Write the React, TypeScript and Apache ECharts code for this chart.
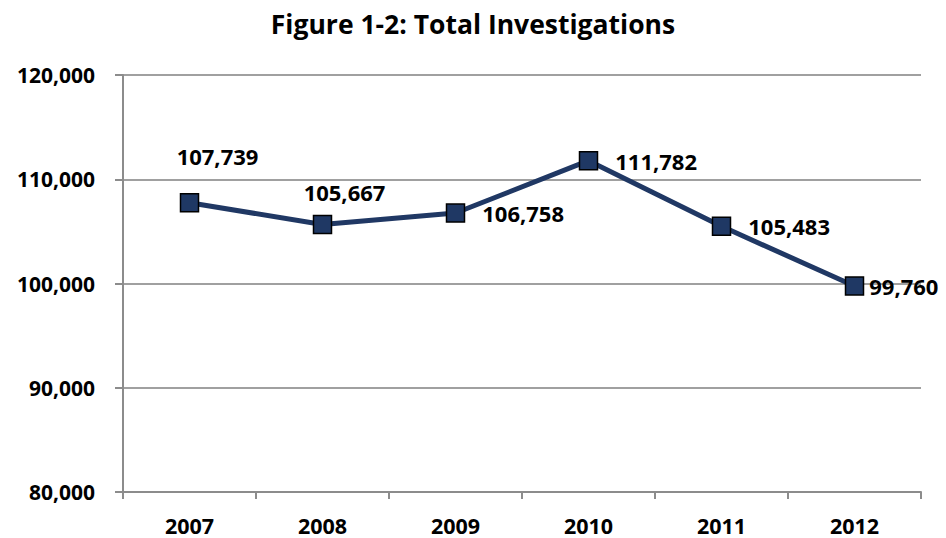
import React, { useEffect, useRef } from "react";
import * as echarts from "echarts";

const categories = ["2007", "2008", "2009", "2010", "2011", "2012"];
const investigations = [107739, 105667, 106758, 111782, 105483, 99760];
const yTicks = { min: 80000, max: 120000, interval: 10000 };

const FONT = "'Open Sans', sans-serif";

export default function App() {
  const ref = useRef<HTMLDivElement>(null);
  useEffect(() => {
    const chart = echarts.init(ref.current!, undefined, { renderer: "svg" });
    const labelCfg = [
      { position: "inside", offset: [28, -47] },
      { position: "inside", offset: [22, -32] },
      { position: "right", distance: 17 },
      { position: "right", distance: 17 },
      { position: "right", distance: 17 },
      { position: "right", distance: 5 },
    ];
    chart.setOption({
      animation: false,
      backgroundColor: "#ffffff",
      title: {
        text: "Figure 1-2: Total Investigations",
        left: "center",
        top: 5,
        textStyle: { fontFamily: FONT, fontWeight: "bold", fontSize: 26.5, color: "#000" },
      },
      grid: { left: 123, right: 25, top: 75, bottom: 46 },
      xAxis: {
        type: "category",
        data: categories,
        boundaryGap: true,
        axisLine: { lineStyle: { color: "#8c8c8c", width: 2 } },
        axisTick: { show: true, length: 7, lineStyle: { color: "#8c8c8c", width: 2 } },
        axisLabel: { fontFamily: FONT, fontWeight: "bold", fontSize: 21.5, color: "#000", margin: 22 },
      },
      yAxis: {
        type: "value",
        min: yTicks.min,
        max: yTicks.max,
        interval: yTicks.interval,
        axisLine: { show: true, lineStyle: { color: "#8c8c8c", width: 2 } },
        axisTick: { show: true, length: 8, lineStyle: { color: "#8c8c8c", width: 2 } },
        splitLine: { show: true, lineStyle: { color: "#a0a0a0", width: 2 } },
        axisLabel: {
          fontFamily: FONT,
          fontWeight: "bold",
          fontSize: 21,
          color: "#000",
          margin: 28,
          formatter: (v: number) => v.toLocaleString("en-US"),
        },
      },
      series: [
        {
          type: "line",
          data: investigations.map((v, i) => ({
            value: v,
            label: { show: true, ...labelCfg[i] },
          })),
          symbol: "rect",
          symbolSize: 18,
          lineStyle: { color: "#203864", width: 5 },
          itemStyle: { color: "#1f3864", borderColor: "#000", borderWidth: 1.5 },
          label: {
            show: true,
            fontFamily: FONT,
            fontWeight: "bold",
            fontSize: 22,
            color: "#000",
            formatter: (p: any) => Number(p.value).toLocaleString("en-US"),
          },
        },
      ],
    });
    return () => chart.dispose();
  }, []);
  return (
    <div
      ref={ref}
      style={{ position: "fixed", left: 0, top: 0, width: 946, height: 538 }}
    />
  );
}
